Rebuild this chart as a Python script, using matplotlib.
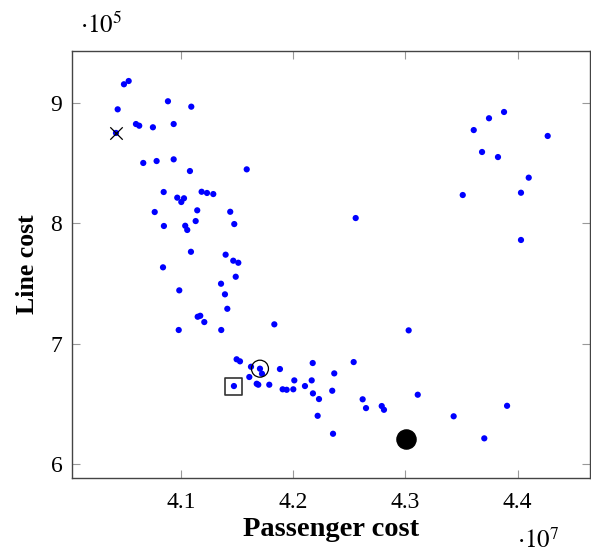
import matplotlib
matplotlib.use("Agg")
import matplotlib.pyplot as plt
from matplotlib.ticker import FuncFormatter, FixedLocator

plt.rcParams['font.family'] = ['Liberation Serif', 'DejaVu Serif']
plt.rcParams['mathtext.fontset'] = 'stix'

# Passenger cost (x 1e7) and line cost (x 1e5)
passenger_cost = [
    4.0492, 4.0534, 4.0884, 4.1092, 4.0436, 4.0421, 4.0599, 4.0628, 4.0750, 4.0935,
    4.0664, 4.0783, 4.0935, 4.1080, 4.1586, 4.0846, 4.1184, 4.1232, 4.1288, 4.0967,
    4.1027, 4.1003, 4.1145, 4.0766, 4.1439, 4.1475, 4.1131, 4.0848, 4.1038, 4.1056,
    4.1089, 4.1398, 4.1466, 4.1511, 4.0840, 4.1488, 4.1357, 4.0985, 4.1392, 4.1413,
    4.1149, 4.1172, 4.1208, 4.0980, 4.1359, 4.1832, 4.1496, 4.1526, 4.1624, 4.1704,
    4.1722, 4.1882, 4.2174, 4.2539, 4.1609, 4.2366, 4.2010, 4.2165, 4.1472, 4.1675,
    4.1689, 4.1787, 4.1906, 4.1942, 4.2001, 4.2105, 4.2176, 4.2230, 4.2348, 4.2619,
    4.2649, 4.2789, 4.2809, 4.2218, 4.2355, 4.3879, 4.3745, 4.3609, 4.4268, 4.3683,
    4.3825, 4.4099, 4.3511, 4.4030, 4.2557, 4.4030, 4.3029, 4.3110, 4.3906, 4.3430,
    4.3703, 4.3005,
]
line_cost = [
    9.153, 9.180, 9.012, 8.967, 8.945, 8.749, 8.823, 8.809, 8.796, 8.823,
    8.500, 8.516, 8.530, 8.433, 8.447, 8.259, 8.261, 8.251, 8.242, 8.212,
    8.207, 8.176, 8.107, 8.093, 8.095, 7.993, 8.018, 7.977, 7.979, 7.944,
    7.763, 7.739, 7.689, 7.672, 7.634, 7.556, 7.498, 7.443, 7.410, 7.290,
    7.224, 7.232, 7.180, 7.114, 7.114, 7.161, 6.871, 6.854, 6.809, 6.793,
    6.751, 6.790, 6.840, 6.848, 6.724, 6.754, 6.696, 6.696, 6.649, 6.668,
    6.660, 6.660, 6.622, 6.618, 6.622, 6.649, 6.588, 6.541, 6.610, 6.539,
    6.466, 6.483, 6.452, 6.402, 6.253, 8.923, 8.871, 8.773, 8.724, 8.591,
    8.549, 8.378, 8.234, 8.253, 8.043, 7.861, 7.111, 6.577, 6.485, 6.398,
    6.215, 6.207,
]

# Highlighted solutions
cross_pt = (4.0421, 8.749)
circle_pt = (4.1704, 6.793)
square_pt = (4.1472, 6.649)
best_pt = (4.3005, 6.207)

x_ticks = [4.1, 4.2, 4.3, 4.4]
y_ticks = [6, 7, 8, 9]

XS, YS = 1e7, 1e5

fig = plt.figure(figsize=(5.91, 5.54), dpi=100)
ax = fig.add_axes([72/591, 1-478/554, (590-72)/591, (478-51)/554])

ax.scatter([v*XS for v in passenger_cost], [v*YS for v in line_cost],
           s=20, color='#0000ff', edgecolors='none', zorder=3)
ax.scatter([cross_pt[0]*XS], [cross_pt[1]*YS], marker='x', s=80, color='black',
           linewidths=0.9, zorder=4)
ax.scatter([circle_pt[0]*XS], [circle_pt[1]*YS], marker='o', s=150, facecolors='none',
           edgecolors='black', linewidths=0.9, zorder=4)
ax.scatter([square_pt[0]*XS], [square_pt[1]*YS], marker='s', s=150, facecolors='none',
           edgecolors='#333333', linewidths=1.2, zorder=4)
ax.scatter([best_pt[0]*XS], [best_pt[1]*YS], marker='o', s=190, color='black', zorder=4)

ax.set_xlim(4.0029*XS, 4.4645*XS)
ax.set_ylim(5.886*YS, 9.429*YS)
ax.xaxis.set_major_locator(FixedLocator([t*XS for t in x_ticks]))
ax.yaxis.set_major_locator(FixedLocator([t*YS for t in y_ticks]))
ax.xaxis.set_major_formatter(FuncFormatter(lambda v, p: f"{v/XS:.1f}"))
ax.yaxis.set_major_formatter(FuncFormatter(lambda v, p: f"{v/YS:.0f}"))

ax.tick_params(direction='in', length=6, width=0.8, color='#999999',
               top=True, right=True, labelsize=17)
ax.tick_params(axis='x', pad=10)
ax.tick_params(axis='y', pad=7)
for sp in ax.spines.values():
    sp.set_color('#444444')
    sp.set_linewidth(1.0)

ax.set_xlabel('Passenger cost', fontsize=20.5, fontweight='bold', labelpad=3)
ax.set_ylabel('Line cost', fontsize=18.5, fontweight='bold', labelpad=8)

fig.text(80/591, 1-25/554, r'$\cdot 10^{5}$', fontsize=18, va='center', ha='left')
fig.text(517/591, 1-540/554, r'$\cdot 10^{7}$', fontsize=18, va='center', ha='left')

fig.savefig('out.png', dpi=100)
